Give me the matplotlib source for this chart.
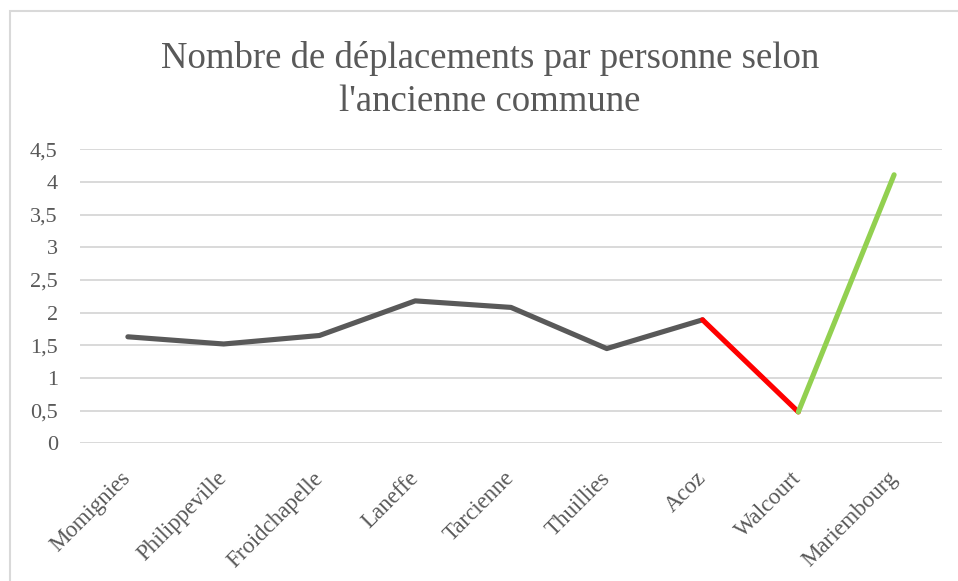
import matplotlib
matplotlib.use("Agg")
import matplotlib.pyplot as plt
from matplotlib.patches import Rectangle
from matplotlib.ticker import FuncFormatter

communes = ["Momignies", "Philippeville", "Froidchapelle", "Laneffe", "Tarcienne",
            "Thuillies", "Acoz", "Walcourt", "Mariembourg"]
deplacements = [1.63, 1.52, 1.65, 2.18, 2.08, 1.45, 1.89, 0.48, 4.11]

titre = "Nombre de déplacements par personne selon\nl'ancienne commune"
gris_texte = "#595959"

plt.rcParams["font.family"] = ["Liberation Serif", "DejaVu Serif"]

fig = plt.figure(figsize=(9.58, 5.81), dpi=100)
ax = fig.add_axes([80 / 958, 1 - 443.3 / 581, 862 / 958, 294 / 581])

x = list(range(len(communes)))
# tronçon gris jusqu'à Acoz, puis la chute en rouge et la remontée en vert
ax.plot(x[:7], deplacements[:7], color="#595959", lw=3.7, solid_capstyle="round",
        solid_joinstyle="round", zorder=3)
ax.plot(x[6:8], deplacements[6:8], color="#ff0000", lw=3.7, solid_capstyle="round", zorder=3)
ax.plot(x[7:9], deplacements[7:9], color="#92d050", lw=3.7, solid_capstyle="round", zorder=4)

ax.set_xlim(-0.5, len(communes) - 0.5)
ax.set_ylim(0, 4.5)
ax.set_yticks([i * 0.5 for i in range(10)])
ax.yaxis.set_major_formatter(FuncFormatter(lambda v, p: f"{v:g}".replace(".", ",")))
ax.grid(axis="y", color="#d9d9d9", lw=1.4)
ax.set_axisbelow(True)
for s in ax.spines.values():
    s.set_visible(False)
ax.tick_params(axis="both", length=0, colors=gris_texte)
ax.tick_params(axis="y", pad=16, labelsize=16)
ax.set_xticks(x)
ax.set_xticklabels(communes, rotation=45, ha="right", va="center",
                   rotation_mode="anchor", fontsize=16.5)
ax.tick_params(axis="x", pad=23)

fig.text(490 / 958, 1 - 80 / 581, titre, ha="center", va="center", fontsize=26.5,
         color=gris_texte, linespacing=1.3)

# cadre du graphique
fig.patches.append(Rectangle((10 / 958, -0.1), 1.1, 1.1 - 11 / 581, transform=fig.transFigure,
                             fill=False, ec="#d9d9d9", lw=1.5))

fig.savefig("out.png", dpi=100, facecolor="white")
